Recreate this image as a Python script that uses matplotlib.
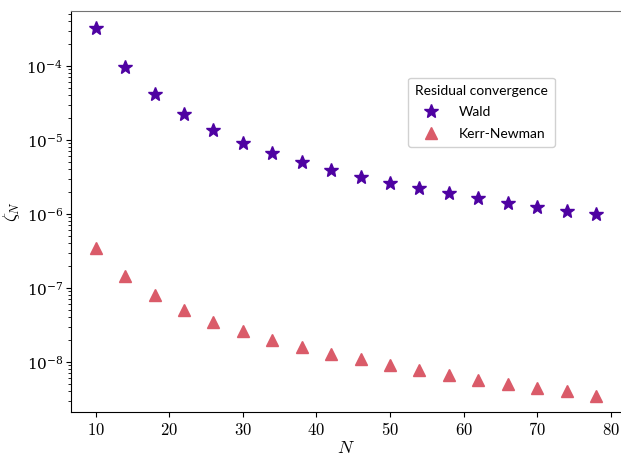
import matplotlib
matplotlib.use("Agg")
import numpy as np
import matplotlib.pyplot as plt
from matplotlib.ticker import LogLocator, NullFormatter

plt.rcParams['mathtext.fontset'] = 'cm'
plt.rcParams['font.family'] = 'serif'
plt.rcParams['font.serif'] = ['DejaVu Serif']

N = [10, 14, 18, 22, 26, 30, 34, 38, 42, 46, 50, 54, 58, 62, 66, 70, 74, 78]
wald = [3.27e-4, 9.7e-5, 4.2e-5, 2.24e-5, 1.36e-5, 9.1e-6, 6.6e-6, 5.0e-6, 3.9e-6,
        3.2e-6, 2.6e-6, 2.24e-6, 1.92e-6, 1.64e-6, 1.4e-6, 1.24e-6, 1.1e-6, 1.0e-6]
kerr_newman = [3.5e-7, 1.45e-7, 8.1e-8, 5.0e-8, 3.5e-8, 2.6e-8, 2.0e-8, 1.6e-8, 1.28e-8,
               1.1e-8, 9.1e-9, 7.8e-9, 6.6e-9, 5.7e-9, 5.0e-9, 4.4e-9, 4.0e-9, 3.5e-9]

c_wald = plt.cm.plasma(0.13)
c_kn = plt.cm.plasma(0.57)

fig = plt.figure(figsize=(6.21, 4.57), dpi=100)
ax = fig.add_axes([0.114, 0.0985, 0.886, 0.8775])

ax.plot(N, wald, linestyle="none", marker="*", markersize=10, color=c_wald, label="Wald")
ax.plot(N, kerr_newman, linestyle="none", marker="^", markersize=9, color=c_kn, label="Kerr-Newman")
ax.set_yscale("log")
ax.set_xlim(6.6, 81.4)
ax.set_ylim(10**-8.676, 10**-3.257)

ax.set_xlabel(r"$N$", fontsize=13, labelpad=0)
ax.set_ylabel(r"$\zeta_N$", fontsize=13, labelpad=3)
ax.set_xticks([10, 20, 30, 40, 50, 60, 70, 80])
ax.set_xticklabels([r"$%d$" % v for v in [10, 20, 30, 40, 50, 60, 70, 80]])
ax.yaxis.set_minor_locator(LogLocator(base=10, subs=np.arange(2, 10), numticks=20))
ax.yaxis.set_minor_formatter(NullFormatter())
ax.tick_params(axis="x", labelsize=12)
ax.tick_params(axis="y", labelsize=11, pad=2)
ax.tick_params(which="minor", length=2)

ax.spines['top'].set_color('0.45')
ax.spines['right'].set_visible(False)

leg = ax.legend(title="Residual convergence", loc="upper left", bbox_to_anchor=(0.600, 0.851),
                prop={'family': 'Lato', 'size': 10}, framealpha=0.9, borderpad=0.5,
                labelspacing=0.7, handletextpad=1.0)
leg.get_title().set_fontfamily('Lato')
leg.get_title().set_fontsize(10)

fig.savefig("out.png", dpi=100)
